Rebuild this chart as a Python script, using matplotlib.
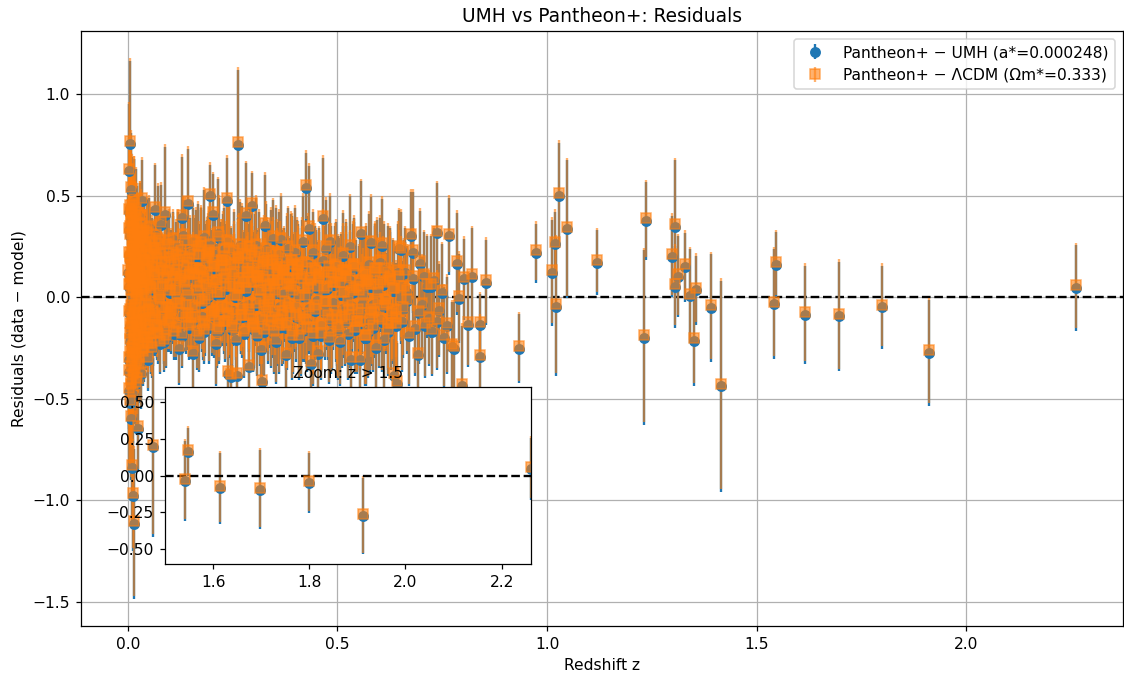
import matplotlib
matplotlib.use('Agg')
import matplotlib.pyplot as plt
import numpy as np

# Pantheon+ Hubble residuals against the best-fit UMH model (data - model)
# low-redshift sample, z < 0.1
z_low = [0.0012, 0.0015, 0.0019, 0.0023, 0.0026, 0.003, 0.0034, 0.0038, 0.0041, 0.0045,
         0.0049, 0.0052, 0.0056, 0.006, 0.0063, 0.0067, 0.0071, 0.0075, 0.0079, 0.0083,
         0.0087, 0.0091, 0.0095, 0.0099, 0.0104, 0.0109, 0.0114, 0.0119, 0.0124, 0.0129,
         0.0134, 0.014, 0.0146, 0.0152, 0.0158, 0.0164, 0.017, 0.0177, 0.0184, 0.0191,
         0.0198, 0.0205, 0.0213, 0.0221, 0.0229, 0.0237, 0.0245, 0.0254, 0.0263, 0.0272,
         0.0281, 0.029, 0.03, 0.031, 0.032, 0.033, 0.034, 0.0352, 0.0364, 0.0376,
         0.0388, 0.04, 0.0413, 0.0426, 0.044, 0.0454, 0.0468, 0.0483, 0.0498, 0.0514,
         0.053, 0.0547, 0.0564, 0.0582, 0.06, 0.0619, 0.0638, 0.0658, 0.0679, 0.07,
         0.0722, 0.0745, 0.0768, 0.0792, 0.0817, 0.0843, 0.087, 0.0897, 0.0925, 0.0954]
res_low = [0.12, -0.31, 0.42, -0.08, 0.62, -0.46, 0.05, 0.33, -0.22, 0.18,
           -0.52, 0.09, 0.755, -0.14, 0.38, -0.35, 0.21, 0.53, -0.6, 0.02,
           -0.27, 0.44, -0.84, 0.15, -0.11, 0.31, -0.98, 0.24, -0.39, 0.07,
           0.47, -0.18, -1.117, 0.36, -0.05, 0.19, -0.29, 0.41, -0.43, 0.11,
           0.26, -0.2, 0.03, -0.33, 0.35, 0.14, -0.65, -0.09, 0.23, -0.24,
           0.39, 0.06, -0.16, 0.29, -0.38, 0.476, 0.01, -0.28, 0.17, 0.32,
           -0.12, 0.08, -0.21, 0.25, -0.04, 0.13, -0.31, 0.2, -0.07, 0.34,
           0.04, -0.19, 0.16, -0.26, -0.74, 0.1, 0.43, -0.1, 0.22, -0.15,
           0.28, 0.0, -0.23, 0.355, -0.06, 0.12, -0.17, 0.405, 0.05, -0.13]
err_low = [0.38, 0.42, 0.35, 0.4, 0.33, 0.37, 0.41, 0.3, 0.36, 0.34,
           0.32, 0.29, 0.41, 0.35, 0.27, 0.31, 0.33, 0.28, 0.3, 0.26,
           0.29, 0.25, 0.3, 0.24, 0.28, 0.22, 0.27, 0.26, 0.23, 0.25,
           0.21, 0.24, 0.37, 0.2, 0.22, 0.19, 0.23, 0.2, 0.21, 0.18,
           0.19, 0.2, 0.17, 0.18, 0.2, 0.16, 0.21, 0.17, 0.18, 0.16,
           0.17, 0.15, 0.18, 0.16, 0.17, 0.2, 0.15, 0.16, 0.17, 0.15,
           0.16, 0.14, 0.15, 0.17, 0.14, 0.16, 0.15, 0.14, 0.16, 0.15,
           0.14, 0.16, 0.15, 0.14, 0.44, 0.15, 0.22, 0.14, 0.15, 0.16,
           0.27, 0.14, 0.15, 0.2, 0.15, 0.14, 0.16, 0.335, 0.15, 0.14]

# second low-z batch (CfA / CSP / Foundation)
z_low2 = [0.0031, 0.0036, 0.0043, 0.0047, 0.0054, 0.0058, 0.0065, 0.0069, 0.0077, 0.0081,
          0.0089, 0.0093, 0.0101, 0.0107, 0.0112, 0.0117, 0.0122, 0.0127, 0.0132, 0.0137,
          0.0143, 0.0149, 0.0155, 0.0161, 0.0167, 0.0174, 0.0181, 0.0188, 0.0195, 0.0202,
          0.0209, 0.0217, 0.0225, 0.0233, 0.0241, 0.025, 0.0259, 0.0268, 0.0277, 0.0286,
          0.0305, 0.0315, 0.0325, 0.0335, 0.0346, 0.0358, 0.037, 0.0382, 0.0394, 0.0407,
          0.042, 0.0433, 0.0447, 0.0461, 0.0475, 0.049, 0.0506, 0.0522, 0.0538, 0.0555,
          0.0573, 0.0591, 0.0609, 0.0628, 0.0648, 0.0668, 0.0689, 0.0711, 0.0733, 0.0756,
          0.078, 0.0804, 0.083, 0.0856, 0.0883, 0.0911, 0.094, 0.0969, 0.0985, 0.0998]
res_low2 = [0.21, -0.37, 0.05, 0.44, -0.19, 0.3, -0.05, -0.42, 0.15, 0.36,
            -0.26, 0.09, 0.4, -0.14, 0.24, -0.48, 0.02, 0.33, -0.3, 0.18,
            -0.09, 0.45, -0.22, 0.11, 0.28, -0.36, 0.06, -0.13, 0.37, -0.02,
            0.2, -0.41, 0.14, 0.31, -0.17, 0.0, 0.26, -0.34, 0.08, 0.39,
            -0.14, 0.22, 0.03, -0.27, 0.31, 0.09, -0.08, 0.17, -0.21, 0.26,
            0.0, -0.15, 0.12, 0.33, -0.24, 0.07, 0.19, -0.11, 0.28, -0.03,
            0.14, -0.19, 0.05, 0.23, -0.09, 0.3, -0.16, 0.1, -0.01, 0.2,
            -0.12, 0.16, 0.04, -0.22, 0.25, -0.06, 0.11, 0.27, -0.14, 0.02]
err_low2 = [0.3, 0.28, 0.33, 0.26, 0.31, 0.27, 0.29, 0.25, 0.28, 0.24,
            0.26, 0.25, 0.23, 0.27, 0.22, 0.24, 0.23, 0.21, 0.25, 0.22,
            0.2, 0.23, 0.21, 0.2, 0.22, 0.19, 0.21, 0.2, 0.18, 0.19,
            0.2, 0.18, 0.19, 0.17, 0.18, 0.19, 0.17, 0.18, 0.16, 0.17,
            0.17, 0.16, 0.18, 0.15, 0.17, 0.16, 0.15, 0.17, 0.14, 0.16,
            0.15, 0.14, 0.16, 0.15, 0.14, 0.15, 0.16, 0.14, 0.15, 0.13,
            0.14, 0.15, 0.13, 0.14, 0.15, 0.13, 0.14, 0.13, 0.14, 0.15,
            0.13, 0.14, 0.13, 0.15, 0.14, 0.13, 0.14, 0.15, 0.13, 0.14]

# third low-z batch
z_low3 = [0.0044, 0.005, 0.0057, 0.0062, 0.0068, 0.0073, 0.0078, 0.0085, 0.009, 0.0097,
          0.0103, 0.0108, 0.0113, 0.0118, 0.0123, 0.0128, 0.0133, 0.0138, 0.0144, 0.015,
          0.0156, 0.0162, 0.0168, 0.0175, 0.0182, 0.0189, 0.0196, 0.0203, 0.021, 0.0218,
          0.0226, 0.0234, 0.0242, 0.0251, 0.026, 0.0269, 0.0278, 0.0288, 0.0298, 0.0308,
          0.0318, 0.0328, 0.0339, 0.035, 0.0361, 0.0373, 0.0385, 0.0397, 0.041, 0.0423,
          0.0437, 0.0451, 0.0465, 0.048, 0.0495, 0.051, 0.0526, 0.0542, 0.0559, 0.0576,
          0.0594, 0.0612, 0.0631, 0.065, 0.067, 0.069, 0.0711, 0.0733, 0.0755, 0.0778,
          0.0801, 0.0825, 0.085, 0.0875, 0.09, 0.0926, 0.0952, 0.0978, 0.099, 0.0995]
res_low3 = [-0.28, 0.34, -0.07, 0.19, -0.44, 0.08, 0.41, -0.16, 0.27, -0.33,
            0.13, -0.02, 0.36, -0.25, 0.04, 0.22, -0.12, 0.3, -0.38, 0.1,
            0.25, -0.2, 0.16, -0.06, 0.42, -0.29, 0.01, 0.18, -0.15, 0.32,
            -0.09, 0.24, -0.23, 0.07, 0.15, -0.31, 0.28, -0.04, 0.12, 0.35,
            -0.18, 0.06, 0.21, -0.1, 0.29, -0.26, 0.02, 0.17, -0.13, 0.24,
            0.09, -0.21, 0.31, -0.05, 0.14, -0.17, 0.2, 0.03, -0.24, 0.26,
            -0.08, 0.11, 0.23, -0.15, 0.05, 0.18, -0.19, 0.27, -0.02, 0.13,
            0.21, -0.11, 0.08, 0.16, -0.2, 0.25, -0.06, 0.12, 0.19, -0.09]
err_low3 = [0.32, 0.29, 0.34, 0.28, 0.31, 0.27, 0.3, 0.26, 0.29, 0.25,
            0.27, 0.24, 0.26, 0.23, 0.25, 0.22, 0.24, 0.21, 0.23, 0.2,
            0.22, 0.21, 0.2, 0.19, 0.21, 0.2, 0.18, 0.19, 0.2, 0.18,
            0.17, 0.19, 0.18, 0.17, 0.18, 0.16, 0.17, 0.18, 0.16, 0.17,
            0.16, 0.15, 0.17, 0.16, 0.15, 0.16, 0.15, 0.14, 0.16, 0.15,
            0.14, 0.15, 0.16, 0.14, 0.15, 0.14, 0.13, 0.15, 0.14, 0.13,
            0.14, 0.15, 0.13, 0.14, 0.13, 0.15, 0.14, 0.13, 0.14, 0.13,
            0.15, 0.14, 0.13, 0.14, 0.15, 0.13, 0.14, 0.13, 0.14, 0.15]

# intermediate redshift, 0.1 < z < 0.44
z_mid = [0.101, 0.104, 0.107, 0.11, 0.113, 0.116, 0.119, 0.122, 0.125, 0.128,
         0.131, 0.134, 0.137, 0.14, 0.143, 0.146, 0.149, 0.152, 0.155, 0.158,
         0.161, 0.164, 0.167, 0.17, 0.173, 0.176, 0.179, 0.182, 0.185, 0.188,
         0.191, 0.194, 0.197, 0.2, 0.203, 0.206, 0.209, 0.212, 0.215, 0.218,
         0.221, 0.224, 0.227, 0.23, 0.233, 0.236, 0.239, 0.242, 0.245, 0.248,
         0.251, 0.254, 0.257, 0.26, 0.263, 0.266, 0.269, 0.272, 0.275, 0.278,
         0.281, 0.284, 0.287, 0.29, 0.293, 0.296, 0.299, 0.302, 0.305, 0.308,
         0.311, 0.314, 0.317, 0.32, 0.323, 0.326, 0.329, 0.332, 0.335, 0.338,
         0.341, 0.344, 0.347, 0.35, 0.353, 0.356, 0.359, 0.362, 0.365, 0.368,
         0.371, 0.374, 0.377, 0.38, 0.383, 0.386, 0.389, 0.392, 0.395, 0.398,
         0.401, 0.405, 0.409, 0.413, 0.417, 0.421, 0.425, 0.429, 0.433, 0.437]
res_mid = [0.05, -0.12, 0.21, -0.18, 0.1, -0.02, 0.17, -0.255, 0.08, 0.39,
           -0.09, 0.14, 0.27, 0.02, 0.46, -0.15, 0.11, -0.05, -0.28, 0.2,
           -0.11, 0.06, 0.24, -0.2, 0.13, -0.03, 0.09, 0.29, -0.14, 0.18,
           0.0, 0.22, 0.496, -0.08, 0.405, 0.15, -0.23, 0.07, 0.31, -0.16,
           0.12, -0.06, 0.19, -0.13, 0.04, 0.476, -0.378, 0.26, -0.394, 0.1,
           -0.07, 0.16, -0.21, -0.386, 0.75, 0.03, -0.1, 0.23, 0.08, -0.17,
           0.4, 0.11, -0.04, -0.345, 0.19, 0.45, -0.12, 0.06, 0.25, -0.19,
           0.14, -0.02, -0.26, -0.42, 0.09, 0.353, -0.08, 0.17, -0.15, 0.05,
           0.21, -0.11, 0.287, 0.02, -0.22, 0.13, 0.07, -0.05, 0.28, -0.14,
           0.1, -0.03, -0.287, 0.18, 0.238, -0.09, 0.04, 0.15, -0.18, 0.22,
           -0.06, 0.12, -0.2, 0.08, 0.27, -0.12, 0.54, 0.03, 0.336, -0.33]
err_mid = [0.14, 0.16, 0.19, 0.13, 0.17, 0.15, 0.2, 0.18, 0.14, 0.3,
           0.15, 0.17, 0.21, 0.14, 0.27, 0.16, 0.18, 0.15, 0.2, 0.19,
           0.16, 0.14, 0.22, 0.17, 0.15, 0.18, 0.16, 0.24, 0.15, 0.2,
           0.17, 0.19, 0.155, 0.16, 0.2, 0.18, 0.21, 0.15, 0.27, 0.17,
           0.16, 0.18, 0.22, 0.15, 0.17, 0.21, 0.2, 0.23, 0.19, 0.16,
           0.17, 0.2, 0.18, 0.19, 0.37, 0.16, 0.18, 0.22, 0.17, 0.19,
           0.26, 0.18, 0.17, 0.2, 0.22, 0.16, 0.19, 0.18, 0.24, 0.2,
           0.19, 0.17, 0.2, 0.22, 0.18, 0.25, 0.19, 0.21, 0.18, 0.2,
           0.22, 0.19, 0.19, 0.18, 0.21, 0.2, 0.23, 0.18, 0.22, 0.2,
           0.21, 0.19, 0.2, 0.22, 0.2, 0.19, 0.21, 0.23, 0.2, 0.22,
           0.2, 0.22, 0.21, 0.19, 0.23, 0.2, 0.17, 0.21, 0.31, 0.22]

# second intermediate batch (SDSS / PS1 / DES)
z_mid2 = [0.1025, 0.1055, 0.1085, 0.1115, 0.1145, 0.1175, 0.1205, 0.1235, 0.1265, 0.1295,
          0.1325, 0.1355, 0.1385, 0.1415, 0.1445, 0.1475, 0.1505, 0.1535, 0.1565, 0.1595,
          0.1625, 0.1655, 0.1685, 0.1715, 0.1745, 0.1775, 0.1805, 0.1835, 0.1865, 0.1895,
          0.1925, 0.1955, 0.1985, 0.2015, 0.2045, 0.2075, 0.2105, 0.2135, 0.2165, 0.2195,
          0.2225, 0.2255, 0.2285, 0.2315, 0.2345, 0.2375, 0.2405, 0.2435, 0.2465, 0.2495,
          0.2525, 0.2555, 0.2585, 0.2615, 0.2645, 0.2675, 0.2705, 0.2735, 0.2765, 0.2795,
          0.2825, 0.2855, 0.2885, 0.2915, 0.2945, 0.2975, 0.3005, 0.3035, 0.3065, 0.3095,
          0.3125, 0.3155, 0.3185, 0.3215, 0.3245, 0.3275, 0.3305, 0.3335, 0.3365, 0.3395,
          0.3425, 0.3455, 0.3485, 0.3515, 0.3545, 0.3575, 0.3605, 0.3635, 0.3665, 0.3695,
          0.3725, 0.3765, 0.3805, 0.3845, 0.3885, 0.3925, 0.3965, 0.4005, 0.4045, 0.4085,
          0.4125, 0.4165, 0.4205, 0.4245, 0.4285, 0.4325, 0.4365, 0.4405, 0.4455, 0.4505,
          0.4555, 0.4605, 0.4655, 0.4705, 0.4755, 0.4805, 0.4855, 0.4905, 0.4955, 0.5005,
          0.5055, 0.5105, 0.5155, 0.5205, 0.5255, 0.5305, 0.5355, 0.5405, 0.5455, 0.5505,
          0.5555, 0.5605, 0.5655, 0.5705, 0.5755, 0.5805, 0.5855, 0.5905, 0.5955, 0.6005,
          0.6055, 0.6105, 0.6155, 0.6205, 0.6255, 0.6305, 0.6355, 0.6405, 0.6455, 0.6505]
res_mid2 = [0.18, -0.07, 0.28, 0.02, -0.16, 0.12, 0.24, -0.04, 0.09, -0.19,
            0.3, 0.06, -0.11, 0.16, 0.0, 0.22, -0.14, 0.1, 0.27, -0.06,
            0.13, -0.18, 0.2, 0.04, 0.26, -0.1, 0.08, -0.02, 0.19, 0.11,
            -0.15, 0.25, 0.03, 0.14, -0.08, 0.21, 0.07, -0.17, 0.29, 0.01,
            0.17, -0.05, 0.23, -0.13, 0.1, 0.27, -0.09, 0.05, 0.15, -0.16,
            0.22, 0.0, -0.12, 0.18, 0.08, 0.25, -0.07, 0.13, -0.18, 0.2,
            0.03, 0.16, -0.1, 0.24, 0.06, -0.14, 0.11, 0.19, -0.04, 0.09,
            0.21, -0.11, 0.02, 0.15, -0.17, 0.07, 0.23, -0.06, 0.12, 0.0,
            -0.13, 0.17, 0.05, -0.08, 0.2, 0.1, -0.15, 0.14, 0.01, -0.1,
            0.12, -0.15, 0.05, -0.04, 0.17, -0.2, 0.08, -0.1, 0.14, 0.0,
            -0.17, 0.1, 0.03, -0.12, 0.16, -0.06, 0.07, -0.19, 0.13, -0.02,
            0.09, -0.14, 0.18, -0.08, 0.04, -0.21, 0.11, -0.03, 0.15, -0.16,
            0.06, -0.11, 0.01, 0.12, -0.18, 0.08, -0.05, 0.14, -0.13, 0.02,
            -0.09, 0.1, -0.2, 0.05, 0.16, -0.07, -0.15, 0.11, -0.02, 0.07,
            -0.12, 0.13, -0.04, -0.17, 0.09, -0.08, 0.03, -0.14, 0.12, -0.01]
err_mid2 = [0.15, 0.16, 0.14, 0.17, 0.15, 0.16, 0.18, 0.15, 0.17, 0.16,
            0.18, 0.16, 0.17, 0.15, 0.18, 0.17, 0.16, 0.18, 0.17, 0.19,
            0.17, 0.18, 0.16, 0.19, 0.18, 0.17, 0.19, 0.18, 0.17, 0.19,
            0.18, 0.2, 0.17, 0.19, 0.18, 0.2, 0.19, 0.18, 0.2, 0.19,
            0.2, 0.18, 0.21, 0.19, 0.2, 0.18, 0.21, 0.2, 0.19, 0.21,
            0.2, 0.22, 0.19, 0.21, 0.2, 0.22, 0.21, 0.19, 0.22, 0.2,
            0.21, 0.2, 0.22, 0.21, 0.2, 0.23, 0.21, 0.22, 0.2, 0.22,
            0.21, 0.23, 0.22, 0.2, 0.22, 0.21, 0.23, 0.22, 0.21, 0.23,
            0.22, 0.21, 0.23, 0.22, 0.24, 0.21, 0.23, 0.22, 0.24, 0.23,
            0.22, 0.21, 0.23, 0.22, 0.24, 0.21, 0.23, 0.22, 0.24, 0.23,
            0.22, 0.24, 0.23, 0.21, 0.24, 0.22, 0.23, 0.25, 0.22, 0.24,
            0.23, 0.22, 0.24, 0.23, 0.25, 0.22, 0.24, 0.23, 0.22, 0.25,
            0.23, 0.24, 0.22, 0.25, 0.23, 0.24, 0.22, 0.25, 0.24, 0.23,
            0.25, 0.22, 0.24, 0.23, 0.25, 0.24, 0.22, 0.25, 0.23, 0.24,
            0.25, 0.23, 0.24, 0.22, 0.25, 0.24, 0.23, 0.25, 0.24, 0.22]

# third intermediate batch
z_mid3 = [0.1035, 0.1095, 0.1155, 0.1215, 0.1275, 0.1335, 0.1395, 0.1455, 0.1515, 0.1575,
          0.1635, 0.1695, 0.1755, 0.1815, 0.1875, 0.1935, 0.1995, 0.2055, 0.2115, 0.2175,
          0.2235, 0.2295, 0.2355, 0.2415, 0.2475, 0.2535, 0.2595, 0.2655, 0.2715, 0.2775,
          0.2835, 0.2895, 0.2955, 0.3015, 0.3075, 0.3135, 0.3195, 0.3255, 0.3315, 0.3375,
          0.3435, 0.3495, 0.3555, 0.3615, 0.3675, 0.3735, 0.3795, 0.3855, 0.3915, 0.3975,
          0.4035, 0.4095, 0.4155, 0.4215, 0.4275, 0.4335, 0.4395, 0.4475, 0.4535, 0.4595,
          0.4675, 0.4735, 0.4795, 0.4875, 0.4935, 0.4995, 0.5075, 0.5135, 0.5195, 0.5275,
          0.5335, 0.5395, 0.5475, 0.5535, 0.5595, 0.5675, 0.5735, 0.5795, 0.5875, 0.5935,
          0.5995, 0.6075, 0.6135, 0.6195, 0.6275, 0.6335, 0.6395, 0.6475, 0.6535, 0.6595,
          0.1065, 0.1185, 0.1305, 0.1425, 0.1545, 0.1665, 0.1785, 0.1905, 0.2025, 0.2145,
          0.2265, 0.2385, 0.2505, 0.2625, 0.2745, 0.2865, 0.2985, 0.3105, 0.3225, 0.3345,
          0.3465, 0.3585, 0.3705, 0.3825, 0.3945, 0.4065, 0.4185, 0.4305, 0.4425, 0.4565,
          0.4705, 0.4845, 0.4985, 0.5125, 0.5265, 0.5405, 0.5545, 0.5685, 0.5825, 0.5965,
          0.6105, 0.6245, 0.6385, 0.6525, 0.6665, 0.6805, 0.6945, 0.7085, 0.7225, 0.7365,
          0.115, 0.145, 0.175, 0.205, 0.235, 0.265, 0.295, 0.325, 0.355, 0.385]
res_mid3 = [-0.08, 0.15, 0.03, -0.14, 0.22, 0.07, -0.05, 0.18, -0.11, 0.1,
            0.26, -0.02, 0.12, -0.17, 0.05, 0.2, -0.09, 0.14, 0.01, -0.13,
            0.17, 0.08, -0.06, 0.23, -0.15, 0.11, 0.0, 0.19, -0.1, 0.06,
            0.24, -0.07, 0.13, -0.16, 0.09, 0.02, -0.12, 0.18, 0.04, -0.03,
            0.15, -0.18, 0.07, 0.21, -0.08, 0.12, -0.14, 0.05, 0.17, -0.05,
            0.1, -0.11, 0.16, 0.0, -0.16, 0.08, 0.13, -0.07, 0.04, -0.19,
            0.11, -0.03, 0.14, -0.12, 0.06, -0.15, 0.09, -0.06, 0.12, -0.1,
            0.02, 0.15, -0.13, 0.07, -0.04, 0.1, -0.17, 0.05, -0.08, 0.13,
            -0.11, 0.06, -0.02, 0.11, -0.14, 0.03, -0.07, 0.09, -0.12, 0.04,
            0.09, -0.04, 0.19, -0.09, 0.13, 0.02, -0.13, 0.21, 0.06, -0.07,
            0.14, -0.1, 0.04, 0.18, -0.05, 0.11, -0.15, 0.08, 0.16, -0.02,
            0.07, -0.12, 0.12, -0.06, 0.02, 0.15, -0.09, 0.05, -0.16, 0.1,
            -0.03, 0.08, -0.1, 0.12, -0.07, 0.03, -0.13, 0.06, -0.09, 0.01,
            -0.05, 0.07, -0.11, 0.04, -0.02, 0.09, -0.08, -0.14, 0.05, -0.12,
            0.2, 0.1, 0.24, -0.1, 0.17, 0.03, 0.22, -0.05, 0.15, 0.08]
err_mid3 = [0.15, 0.16, 0.17, 0.15, 0.18, 0.16, 0.17, 0.19, 0.16, 0.18,
            0.17, 0.19, 0.18, 0.16, 0.19, 0.18, 0.2, 0.17, 0.19, 0.18,
            0.2, 0.19, 0.18, 0.21, 0.19, 0.2, 0.18, 0.21, 0.2, 0.19,
            0.21, 0.2, 0.22, 0.19, 0.21, 0.2, 0.22, 0.21, 0.2, 0.22,
            0.21, 0.2, 0.22, 0.21, 0.23, 0.2, 0.22, 0.21, 0.23, 0.22,
            0.21, 0.23, 0.22, 0.24, 0.21, 0.23, 0.22, 0.24, 0.23, 0.22,
            0.24, 0.23, 0.22, 0.24, 0.23, 0.25, 0.22, 0.24, 0.23, 0.25,
            0.24, 0.22, 0.25, 0.23, 0.24, 0.25, 0.23, 0.24, 0.22, 0.25,
            0.24, 0.23, 0.25, 0.24, 0.22, 0.25, 0.24, 0.23, 0.25, 0.24,
            0.16, 0.17, 0.18, 0.17, 0.18, 0.19, 0.18, 0.19, 0.2, 0.19,
            0.2, 0.21, 0.2, 0.19, 0.21, 0.2, 0.22, 0.21, 0.2, 0.22,
            0.21, 0.22, 0.21, 0.23, 0.22, 0.21, 0.23, 0.22, 0.23, 0.24,
            0.23, 0.22, 0.24, 0.23, 0.24, 0.25, 0.23, 0.24, 0.25, 0.24,
            0.23, 0.25, 0.24, 0.25, 0.26, 0.24, 0.25, 0.26, 0.25, 0.24,
            0.17, 0.18, 0.19, 0.2, 0.19, 0.2, 0.21, 0.2, 0.22, 0.21]

# deep fields, 0.44 < z < 0.83
z_deep = [0.441, 0.445, 0.449, 0.453, 0.457, 0.461, 0.465, 0.469, 0.473, 0.477,
          0.481, 0.485, 0.489, 0.493, 0.497, 0.501, 0.505, 0.509, 0.513, 0.517,
          0.521, 0.525, 0.529, 0.533, 0.537, 0.541, 0.545, 0.549, 0.553, 0.557,
          0.561, 0.565, 0.569, 0.573, 0.577, 0.581, 0.585, 0.589, 0.593, 0.597,
          0.601, 0.606, 0.611, 0.616, 0.621, 0.626, 0.631, 0.636, 0.641, 0.646,
          0.651, 0.656, 0.661, 0.666, 0.671, 0.676, 0.681, 0.686, 0.691, 0.696,
          0.701, 0.707, 0.713, 0.719, 0.725, 0.731, 0.737, 0.743, 0.749, 0.755,
          0.761, 0.767, 0.773, 0.779, 0.785, 0.791, 0.797, 0.803, 0.812, 0.822]
res_deep = [0.22, -0.05, 0.12, -0.28, 0.08, -0.15, 0.386, 0.03, 0.238, -0.1,
            0.27, -0.18, 0.06, 0.14, -0.08, 0.1, -0.22, 0.01, 0.205, -0.12,
            0.09, -0.03, 0.246, -0.31, 0.15, -0.16, 0.04, -0.07, -0.31, 0.31,
            0.0, 0.11, -0.2, 0.07, -0.12, 0.265, -0.04, 0.13, -0.25, 0.05,
            0.17, 0.254, -0.213, -0.02, -0.14, 0.08, -0.09, -0.386, -0.427, 0.238,
            0.23, -0.06, 0.12, 0.02, -0.19, 0.3, 0.22, -0.156, -0.287, 0.164,
            -0.04, 0.1, 0.05, -0.11, -0.17, 0.08, 0.315, -0.066, 0.02, -0.2,
            -0.14, 0.3, -0.246, -0.255, 0.164, -0.008, -0.44, 0.087, -0.136, 0.1]
err_deep = [0.2, 0.22, 0.21, 0.23, 0.19, 0.22, 0.3, 0.2, 0.24, 0.21,
            0.23, 0.2, 0.22, 0.21, 0.24, 0.2, 0.22, 0.23, 0.21, 0.22,
            0.22, 0.24, 0.25, 0.23, 0.21, 0.22, 0.24, 0.2, 0.22, 0.26,
            0.23, 0.21, 0.24, 0.22, 0.25, 0.23, 0.21, 0.22, 0.24, 0.23,
            0.22, 0.23, 0.25, 0.24, 0.22, 0.21, 0.24, 0.23, 0.2, 0.19,
            0.19, 0.24, 0.22, 0.23, 0.25, 0.22, 0.3, 0.23, 0.24, 0.26,
            0.24, 0.22, 0.25, 0.23, 0.22, 0.26, 0.245, 0.23, 0.24, 0.25,
            0.24, 0.19, 0.22, 0.23, 0.25, 0.22, 0.3, 0.2, 0.21, 0.24]

# high redshift (HST) points
z_high = [0.84, 0.84, 0.854, 0.934, 0.973, 1.012, 1.02, 1.021, 1.028, 1.048,
          1.12, 1.232, 1.235, 1.299, 1.305, 1.306, 1.313, 1.33, 1.34, 1.35,
          1.356, 1.39, 1.416, 1.542, 1.547, 1.615, 1.697, 1.8, 1.912, 2.261]
res_high = [-0.136, -0.296, 0.072, -0.255, 0.217, 0.12, 0.26, -0.048, 0.5, 0.335,
            0.17, -0.2, 0.375, 0.2, 0.05, 0.345, 0.1, 0.148, 0.005, -0.216,
            0.033, -0.054, -0.44, -0.035, 0.16, -0.087, -0.095, -0.05, -0.275, 0.045]
err_high = [0.15, 0.2, 0.21, 0.17, 0.145, 0.26, 0.16, 0.34, 0.26, 0.34,
            0.16, 0.43, 0.19, 0.2, 0.2, 0.33, 0.2, 0.17, 0.23, 0.22,
            0.17, 0.265, 0.52, 0.27, 0.16, 0.24, 0.27, 0.205, 0.26, 0.21]

# offset of the LCDM residuals relative to the UMH ones
dres_lcdm = 0.013

a_star = 0.000248
om_star = 0.333

z = np.array(z_low + z_low2 + z_low3 + z_mid + z_mid2 + z_mid3 + z_deep + z_high)
res_umh = np.array(res_low + res_low2 + res_low3 + res_mid + res_mid2 + res_mid3
                   + res_deep + res_high)
err = np.array(err_low + err_low2 + err_low3 + err_mid + err_mid2 + err_mid3
               + err_deep + err_high)
res_lcdm = res_umh + dres_lcdm

fig = plt.figure(figsize=(1124 / 112, 677 / 112), dpi=112)
ax = fig.add_axes([0.0721, 0.0753, 0.9270, 0.8789])

ax.axhline(0, color='k', ls='--', lw=1.5)
ax.errorbar(z, res_umh, yerr=err, fmt='o',
            label=f'Pantheon+ − UMH (a*={a_star:.6f})')
ax.errorbar(z, res_lcdm, yerr=err, fmt='s', alpha=0.6,
            label=f'Pantheon+ − ΛCDM (Ωm*={om_star:.3f})')
ax.set_xlabel('Redshift z')
ax.set_ylabel('Residuals (data − model)')
ax.set_title('UMH vs Pantheon+: Residuals')
ax.grid(True)
ax.legend(loc='upper right')

# zoomed view of the high-z tail
axins = fig.add_axes([0.1468, 0.1669, 0.3256, 0.2614])
axins.errorbar(z, res_umh, yerr=err, fmt='o')
axins.errorbar(z, res_lcdm, yerr=err, fmt='s', alpha=0.6)
axins.axhline(0, color='k', ls='--', lw=1.5)
axins.set_xlim(1.5, z.max())
axins.set_ylim(-0.6, 0.6)
axins.set_title('Zoom: z > 1.5', fontsize=10)

fig.savefig('out.png', dpi=112)
plt.close(fig)
